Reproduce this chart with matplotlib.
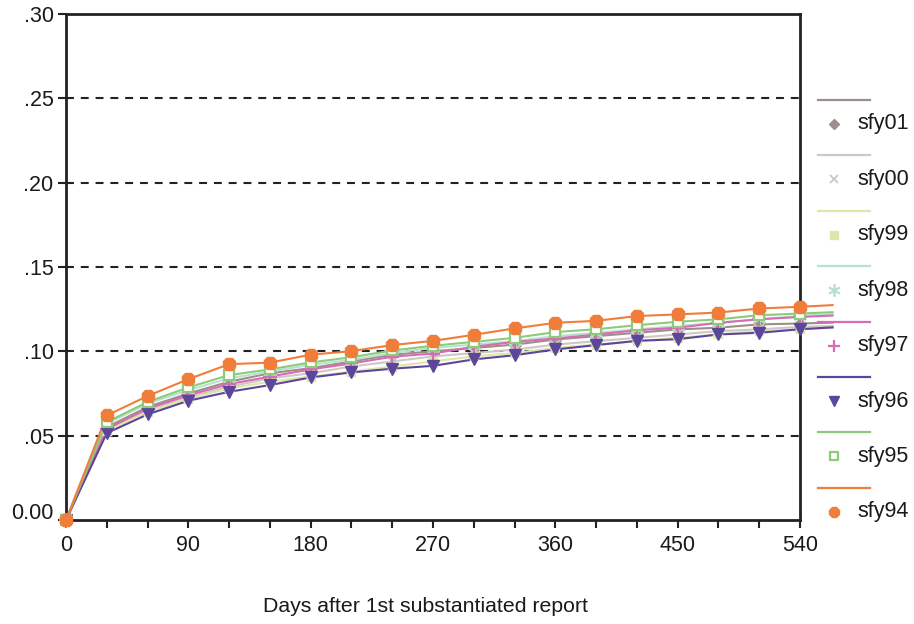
import matplotlib
matplotlib.use("Agg")
import matplotlib.pyplot as plt
from matplotlib.lines import Line2D
import matplotlib.transforms as mtransforms
import numpy as np

plt.rcParams['font.family'] = ['Liberation Sans', 'DejaVu Sans']

days = list(range(0, 541, 30))
tail_day = 564

series_names = ["sfy01", "sfy00", "sfy99", "sfy98", "sfy97", "sfy96", "sfy95", "sfy94"]

sfy01 = [0, .055, .067, .075, .082, .087, .090, .094, .098, .100, .102, .104, .107, .109, .111, .113, .114, .116, .1165]
sfy00 = [0, .053, .065, .073, .079, .084, .087, .091, .094, .097, .099, .101, .104, .106, .108, .110, .112, .113, .1145]
sfy99 = [0, .053, .064, .072, .078, .082, .085, .088, .091, .094, .097, .099, .102, .104, .106, .108, .110, .112, .113]
sfy98 = [0, .057, .069, .077, .084, .088, .092, .095, .099, .102, .104, .106, .109, .111, .113, .115, .117, .119, .121]
sfy97 = [0, .054, .066, .074, .0806, .085, .0893, .0928, .0968, .0987, .1027, .1056, .1076, .110, .1125, .114, .1169, .119, .1204]
sfy96 = [0, .0515, .0626, .0707, .076, .080, .0845, .0875, .0897, .0914, .0952, .0977, .1011, .1037, .1062, .1072, .110, .111, .1131]
sfy95 = [0, .058, .070, .0786, .0859, .0893, .0934, .0965, .1005, .1033, .1056, .108, .1114, .1131, .1155, .1175, .119, .1214, .1224]
sfy94 = [0, .062, .0735, .0835, .0924, .0933, .098, .1001, .1037, .1062, .1098, .1136, .1169, .1181, .1209, .1219, .123, .1254, .1264]

tail_values = [.117, .115, .114, .122, .1212, .1142, .1232, .1274]

series_values = [sfy01, sfy00, sfy99, sfy98, sfy97, sfy96, sfy95, sfy94]

colors = ["#9B8F8B", "#CFC7C4", "#DCE8A8", "#B8E2CF", "#D66DB3", "#5C459C", "#8CCB7A", "#F07D3A"]
markers = ["D", "x", "s", (6, 2, 0), "+", "v", "s", "8"]
msizes = [6, 7, 6, 10, 10, 8.5, 7, 9.5]
mfaces = ["#9B8F8B", "none", "#DCE8A8", "none", "none", "#5C459C", "white", "#F07D3A"]
mew = [1, 1.3, 1, 1.3, 1.6, 1, 1.6, 1]

TXT = "#1a1a1a"

fig = plt.figure(figsize=(9.14, 6.24), dpi=100)
ax = fig.add_axes([66/914, 1-520/624, (800-66)/914, (520-14)/624])

for i, (name, vals) in enumerate(zip(series_names, series_values)):
    c = colors[i]
    ax.plot(days + [tail_day], vals + [tail_values[i]], color=c, lw=1.5,
            clip_on=False, zorder=3 + i * 0.1)
    ax.plot(days, vals, linestyle="none", marker=markers[i], ms=msizes[i],
            mfc=mfaces[i], mec=c, mew=mew[i], clip_on=False, zorder=4 + i * 0.1)

ax.set_xlim(0, 540)
ax.set_ylim(0, 0.30)
ax.set_xticks(range(0, 541, 30))
ax.set_xticklabels([str(d) if d % 90 == 0 else "" for d in range(0, 541, 30)])
yt = [0, .05, .10, .15, .20, .25, .30]
ax.set_yticks(yt)
ax.set_yticklabels(["0.00", ".05", ".10", ".15", ".20", ".25", ".30"])
for y in yt[1:-1]:
    ax.axhline(y, color="#222222", lw=1.5, ls=(0, (3.8, 3.3)), zorder=1)

for s in ax.spines.values():
    s.set_linewidth(2)
    s.set_color("#222222")
ax.tick_params(axis="both", direction="out", length=6, width=1.5, color="#222222",
               labelsize=15.5, labelcolor=TXT)
ax.tick_params(axis="x", pad=5)
ax.tick_params(axis="y", pad=3)

# lift the 0.00 label slightly, as in the reference
lbl0 = ax.get_yticklabels()[0]
lbl0.set_transform(lbl0.get_transform() + mtransforms.ScaledTranslation(0, 9/100, fig.dpi_scale_trans))

ax.set_xlabel("Days after 1st substantiated report", fontsize=15.3, color=TXT)
ax.xaxis.set_label_coords((425.5 - 66) / (800 - 66), -(606 - 520) / (520 - 14))
ax.xaxis.label.set_va("center")

# legend
x0, x1 = 818 / 914, 870 / 914
for i, name in enumerate(series_names):
    yl = 1 - (100 + i * 55.4) / 624
    ym = 1 - (124 + i * 55.4) / 624
    fig.add_artist(Line2D([x0, x1], [yl, yl], color=colors[i], lw=1.6, transform=fig.transFigure))
    fig.add_artist(Line2D([834 / 914], [ym], marker=markers[i], ms=msizes[i] * 0.9,
                          mfc=mfaces[i], mec=colors[i], mew=mew[i], linestyle="none",
                          transform=fig.transFigure))
    fig.text(857 / 914, ym, name, fontsize=15.5, va="center", ha="left", color=TXT)

fig.savefig("out.png", dpi=100)
